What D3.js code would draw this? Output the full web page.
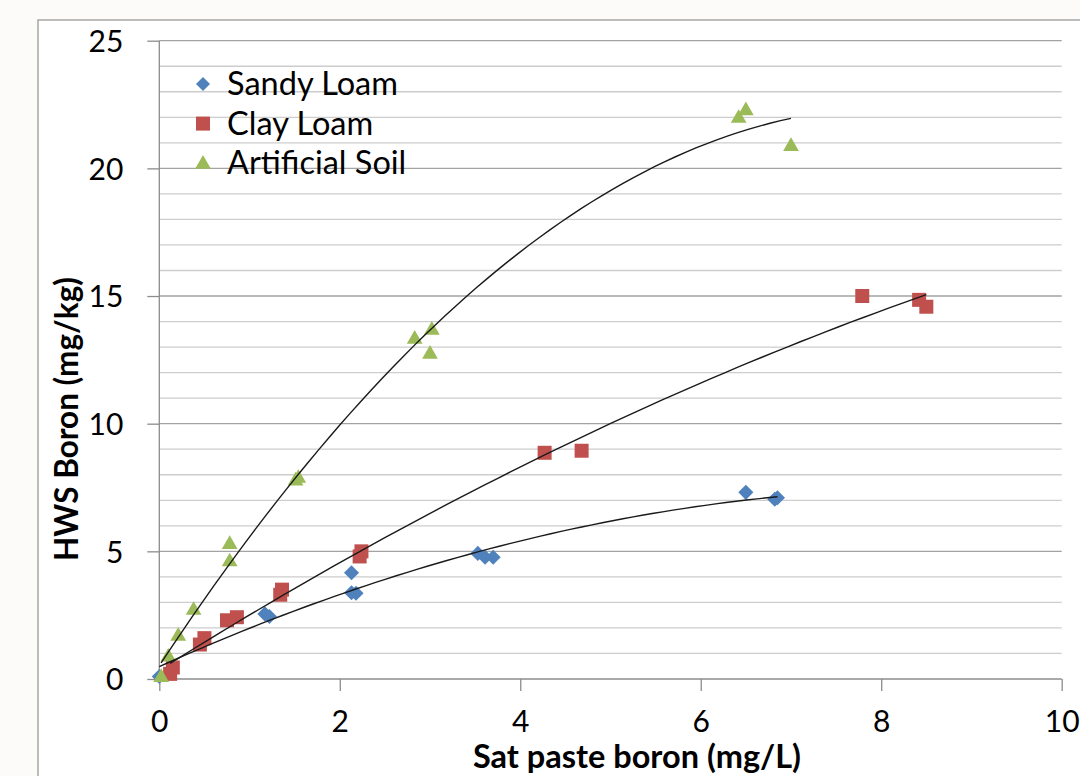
<!DOCTYPE html>
<html>
<head>
<meta charset="utf-8">
<script src="https://cdn.jsdelivr.net/npm/d3@7"></script>
<style>
  body { margin: 0; background: #fcfbf9; }
  svg { display: block; font-family: Lato, "Open Sans", sans-serif; }
</style>
</head>
<body>
<svg id="chart" width="1080" height="776"></svg>
<script>
// series: [sat paste boron mg/L, HWS boron mg/kg]
const sandyLoam = [
  [0.0, 0.1], [1.17, 2.55], [1.22, 2.45], [2.13, 4.16], [2.13, 3.38], [2.18, 3.36],
  [3.53, 4.92], [3.61, 4.77], [3.70, 4.77], [6.50, 7.31], [6.82, 7.04], [6.85, 7.10]
]
const clayLoam = [
  [0.12, 0.2], [0.15, 0.45], [0.45, 1.35], [0.50, 1.6], [0.75, 2.3], [0.86, 2.42],
  [1.34, 3.3], [1.36, 3.5], [2.22, 4.8], [2.24, 5.0], [4.27, 8.86], [4.68, 8.94],
  [7.79, 15.0], [8.42, 14.85], [8.50, 14.58]
]
const artificialSoil = [
  [0.02, 0.1], [0.10, 0.9], [0.21, 1.72], [0.38, 2.73], [0.78, 4.63], [0.78, 5.31],
  [1.51, 7.8], [1.54, 7.9], [2.83, 13.35], [3.02, 13.7], [3.00, 12.76],
  [6.42, 22.0], [6.50, 22.3], [7.00, 20.9]
]

const seriesNames = ['Sandy Loam', 'Clay Loam', 'Artificial Soil']
const seriesColors = ['#4f81bd', '#c0504d', '#9bbb59']
const seriesShapes = ['diamond', 'square', 'triangle']
const xTicks = [0, 2, 4, 6, 8, 10]
const yTicks = [0, 5, 10, 15, 20, 25]
const xTitle = 'Sat paste boron (mg/L)'
const yTitle = 'HWS Boron (mg/kg)'

const plot = {left: 159.3, right: 1061.7, top: 40.7, bottom: 679}

const svg = d3.select('#chart')

const x = d3.scaleLinear().domain([0, 10]).range([plot.left, plot.right])
const y = d3.scaleLinear().domain([0, 25]).range([plot.bottom, plot.top])

// chart frame
svg.append('rect')
  .attr('x', 0).attr('y', 0).attr('width', 1080).attr('height', 776)
  .attr('fill', '#fcfbf9')
svg.append('rect')
  .attr('x', 38).attr('y', 20).attr('width', 1100).attr('height', 800)
  .attr('fill', '#ffffff')
  .attr('stroke', '#a6a6a6')
  .attr('stroke-width', 1.5)

// gridlines, minor every 1 and major every 5
const grid = svg.append('g').attr('id', 'grid')
grid.selectAll('line.minor')
  .data(d3.range(1, 26).filter(v => v % 5 !== 0))
  .enter().append('line')
  .attr('class', 'minor')
  .attr('x1', plot.left).attr('x2', plot.right)
  .attr('y1', d => y(d)).attr('y2', d => y(d))
  .attr('stroke', '#cdcdcd')
  .attr('stroke-width', 1.3)
grid.selectAll('line.major')
  .data(yTicks.slice(1))
  .enter().append('line')
  .attr('class', 'major')
  .attr('x1', plot.left).attr('x2', plot.right)
  .attr('y1', d => y(d)).attr('y2', d => y(d))
  .attr('stroke', '#a3a3a3')
  .attr('stroke-width', 1.3)

// axes
svg.append('g')
  .attr('id', 'xAxis')
  .attr('transform', `translate(0,${plot.bottom})`)
  .call(d3.axisBottom(x).tickValues(xTicks).tickSize(12).tickPadding(20).tickFormat(d3.format('d')))
svg.append('g')
  .attr('id', 'yAxis')
  .attr('transform', `translate(${plot.left},0)`)
  .call(d3.axisLeft(y).tickValues(yTicks).tickSize(12).tickPadding(24).tickFormat(d3.format('d')))

svg.selectAll('#xAxis path, #yAxis path, #xAxis line, #yAxis line')
  .attr('stroke', '#8c8c8c')
  .attr('stroke-width', 1.3)
svg.selectAll('#xAxis .domain')
  .attr('d', `M${plot.left},0H${plot.right}`)
svg.selectAll('#yAxis .domain')
  .attr('d', `M0,${plot.bottom}V${plot.top}`)
svg.selectAll('#xAxis text, #yAxis text')
  .attr('font-family', 'Lato, sans-serif')
  .attr('font-size', 30)
  .attr('fill', '#000')
svg.selectAll('#yAxis text').attr('dy', '0.36em')

// axis titles
svg.append('text')
  .attr('x', 637).attr('y', 768)
  .attr('text-anchor', 'middle')
  .attr('font-weight', 'bold')
  .attr('font-size', 32.5)
  .text(xTitle)
svg.append('text')
  .attr('transform', 'translate(78,419) rotate(-90)')
  .attr('text-anchor', 'middle')
  .attr('font-weight', 'bold')
  .attr('font-size', 31.5)
  .text(yTitle)

function symbolPath(shape, s) {
  if (shape === 'diamond') {
    return d3.symbol().type(d3.symbolSquare).size(s * s * 0.58)()
  }
  if (shape === 'square') {
    return d3.symbol().type(d3.symbolSquare).size(s * s)()
  }
  return d3.symbol().type(d3.symbolTriangle).size(s * s * 0.55)()
}

// least squares 2nd order polynomial, same as the spreadsheet trendline
function polyFit(points) {
  let n = points.length, sx = 0, sx2 = 0, sx3 = 0, sx4 = 0, sy = 0, sxy = 0, sx2y = 0
  points.forEach(([a, b]) => {
    sx += a; sx2 += a * a; sx3 += a * a * a; sx4 += a * a * a * a
    sy += b; sxy += a * b; sx2y += a * a * b
  })
  const m = [[n, sx, sx2, sy], [sx, sx2, sx3, sxy], [sx2, sx3, sx4, sx2y]]
  for (let i = 0; i < 3; i++) {
    for (let j = i + 1; j < 3; j++) {
      const f = m[j][i] / m[i][i]
      for (let k = i; k < 4; k++) m[j][k] -= f * m[i][k]
    }
  }
  const c = [0, 0, 0]
  for (let i = 2; i >= 0; i--) {
    let s = m[i][3]
    for (let k = i + 1; k < 3; k++) s -= m[i][k] * c[k]
    c[i] = s / m[i][i]
  }
  return c
}

const allSeries = [sandyLoam, clayLoam, artificialSoil]

// markers
allSeries.forEach((data, i) => {
  svg.append('g')
    .attr('class', 'series')
    .selectAll('path')
    .data(data)
    .enter().append('path')
    .attr('d', symbolPath(seriesShapes[i], 14))
    .attr('transform', d => `translate(${x(d[0])},${y(d[1])})` + (seriesShapes[i] === 'diamond' ? ' rotate(45)' : '') + (seriesShapes[i] === 'triangle' ? ' translate(0,1)' : ''))
    .attr('fill', seriesColors[i])
})

// trendlines
const line = d3.line().x(d => x(d[0])).y(d => y(d[1])).curve(d3.curveLinear)
allSeries.forEach(data => {
  const c = polyFit(data)
  const [lo, hi] = d3.extent(data, d => d[0])
  const pts = d3.range(0, 61).map(k => {
    const v = lo + (hi - lo) * k / 60
    return [v, c[0] + c[1] * v + c[2] * v * v]
  })
  svg.append('path')
    .attr('d', line(pts))
    .attr('fill', 'none')
    .attr('stroke', '#1a1a1a')
    .attr('stroke-width', 1.4)
})

// legend
const legend = svg.append('g').attr('id', 'legend')
const rows = legend.selectAll('g')
  .data(seriesNames)
  .enter().append('g')
  .attr('transform', (d, i) => `translate(203,${84 + i * 39.6})`)
rows.append('path')
  .attr('d', (d, i) => symbolPath(seriesShapes[i], i === 0 ? 13 : 14))
  .attr('transform', (d, i) => i === 0 ? 'rotate(45)' : (i === 2 ? 'translate(0,1)' : ''))
  .attr('fill', (d, i) => seriesColors[i])
rows.append('text')
  .attr('x', 24)
  .attr('y', 11)
  .attr('font-size', 32.5)
  .attr('fill', '#000')
  .text(d => d)
</script>
</body>
</html>
